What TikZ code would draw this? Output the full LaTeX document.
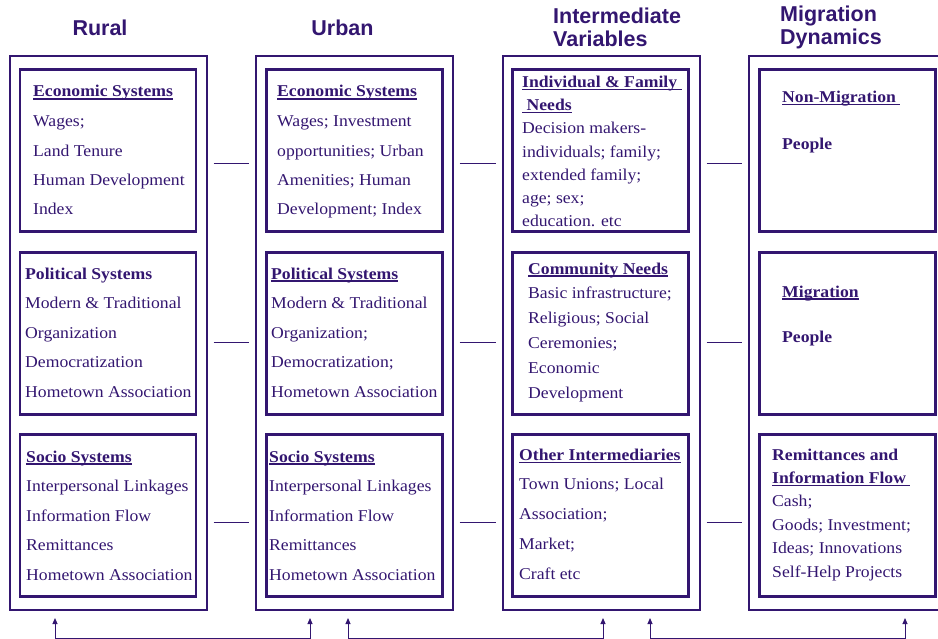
\documentclass[tikz,border=0pt]{standalone}
\usepackage{fontspec}
\setmainfont[FakeStretch=1.07]{Liberation Serif}
\setsansfont{Liberation Sans}
\usetikzlibrary{arrows.meta, positioning}
\definecolor{ink}{RGB}{51,22,112}
\newcommand{\hdl}[1]{\setbox0\hbox{#1}\rlap{\rule[-2.5pt]{\wd0}{1.1pt}}\box0}
\tikzset{
  column/.style={draw=ink, line width=2pt, minimum width=197pt, minimum height=554pt, inner sep=0pt},
  panel/.style={draw=ink, line width=2.6pt, minimum width=176pt, minimum height=162pt, inner sep=0pt},
  txt/.style={text=ink, align=left, anchor=base west, inner sep=0pt, font=\fontsize{16.5}{#1}\selectfont},
  txt/.default=29.5,
  head/.style={text=ink, align=left, inner sep=0pt, font=\sffamily\bfseries\fontsize{21.5}{23}\selectfont},
  link/.style={ink, line width=1pt, shorten <=6pt, shorten >=6pt},
  flow/.style={ink, line width=1pt, {Triangle[length=6pt,width=5pt]}-{Triangle[length=6pt,width=5pt]}}
}

\begin{document}
\begin{tikzpicture}[x=1pt, y=-1pt]
	\clip (0,0) rectangle (938,639);
	% headings (base = last line)
	\draw (100,36) node[head, anchor=base] (hrural) {Rural}
		(342.5,36) node[head, anchor=base] (hurban) {Urban}
		(553,47) node[head, anchor=base west] (hinter) {Intermediate\\Variables}
		(780,45) node[head, anchor=base west] (hmigr) {Migration\\Dynamics};

	% columns
	\draw (108,333) node[column] (rural) {}
		(354,333) node[column] (urban) {}
		(601,333) node[column] (inter) {}
		(847,333) node[column] (migr) {};

	% panels
	\draw (108,150.5) node[panel] (ru1) {}
		(108,333.5) node[panel] (ru2) {}
		(108,515.5) node[panel] (ru3) {}
		(354.5,150.5) node[panel] (ur1) {}
		(354.5,333.5) node[panel] (ur2) {}
		(354.5,515.5) node[panel] (ur3) {}
		(600.5,150.5) node[panel] (iv1) {}
		(600.5,333.5) node[panel] (iv2) {}
		(600.5,515.5) node[panel] (iv3) {}
		(847.5,150.5) node[panel] (mg1) {}
		(847.5,333.5) node[panel] (mg2) {}
		(847.5,515.5) node[panel] (mg3) {};

	% panel texts (placed at the baseline of their last line)
	\draw (33,215) node[txt] (ru1t) {\hdl{\textbf{Economic Systems}}\\Wages;\\Land Tenure\\Human Development\\Index}
		(25,397) node[txt] (ru2t) {\textbf{Political Systems}\\Modern \& Traditional\\Organization\\Democratization\\Hometown Association}
		(26,580) node[txt] (ru3t) {\hdl{\textbf{Socio Systems}}\\Interpersonal Linkages\\Information Flow\\Remittances\\Hometown Association}
		(277,215) node[txt] (ur1t) {\hdl{\textbf{Economic Systems}}\\Wages; Investment\\opportunities; Urban\\Amenities; Human\\Development; Index}
		(271,397) node[txt] (ur2t) {\hdl{\textbf{Political Systems}}\\Modern \& Traditional\\Organization;\\Democratization;\\Hometown Association}
		(269,580) node[txt] (ur3t) {\hdl{\textbf{Socio Systems}}\\Interpersonal Linkages\\Information Flow\\Remittances\\Hometown Association}
		(522,227) node[txt=23.3] (iv1t) {\hdl{\textbf{Individual \& Family\ }}\\\hdl{\textbf{\ Needs}}\\Decision makers-\\individuals; family;\\extended family;\\age; sex;\\education. etc}
		(528,398) node[txt=24.8] (iv2t) {\hdl{\textbf{Community Needs}}\\Basic infrastructure;\\Religious; Social\\Ceremonies;\\Economic\\Development}
		(519,579) node[txt=29.7] (iv3t) {\hdl{\textbf{Other Intermediaries}}\\Town Unions; Local\\Association;\\Market;\\Craft etc}
		(782,150) node[txt=47] (mg1t) {\hdl{\textbf{Non-Migration\ }}\\\textbf{People}}
		(782,342) node[txt=45] (mg2t) {\hdl{\textbf{Migration}}\\\textbf{People}}
		(772,577) node[txt=23.4] (mg3t) {\textbf{Remittances and}\\\hdl{\textbf{Information Flow\ }}\\Cash;\\Goods; Investment;\\Ideas; Innovations\\Self-Help Projects};

	% links between columns
	\foreach \y in {164,343,522} {
		\draw[link] (rural.east |- 0,\y) -- (urban.west |- 0,\y);
		\draw[link] (urban.east |- 0,\y) -- (inter.west |- 0,\y);
		\draw[link] (inter.east |- 0,\y) -- (migr.west |- 0,\y);
	}

	% feedback arrows
	\draw[flow] ([xshift=-53pt,yshift=-7pt]rural.south) -- ++(0,20) -| ([xshift=-44pt,yshift=-7pt]urban.south);
	\draw[flow] ([xshift=-6pt,yshift=-7pt]urban.south) -- ++(0,20) -| ([xshift=2pt,yshift=-7pt]inter.south);
	\draw[flow] ([xshift=49pt,yshift=-7pt]inter.south) -- ++(0,20) -| ([xshift=58pt,yshift=-7pt]migr.south);
\end{tikzpicture}
\end{document}
